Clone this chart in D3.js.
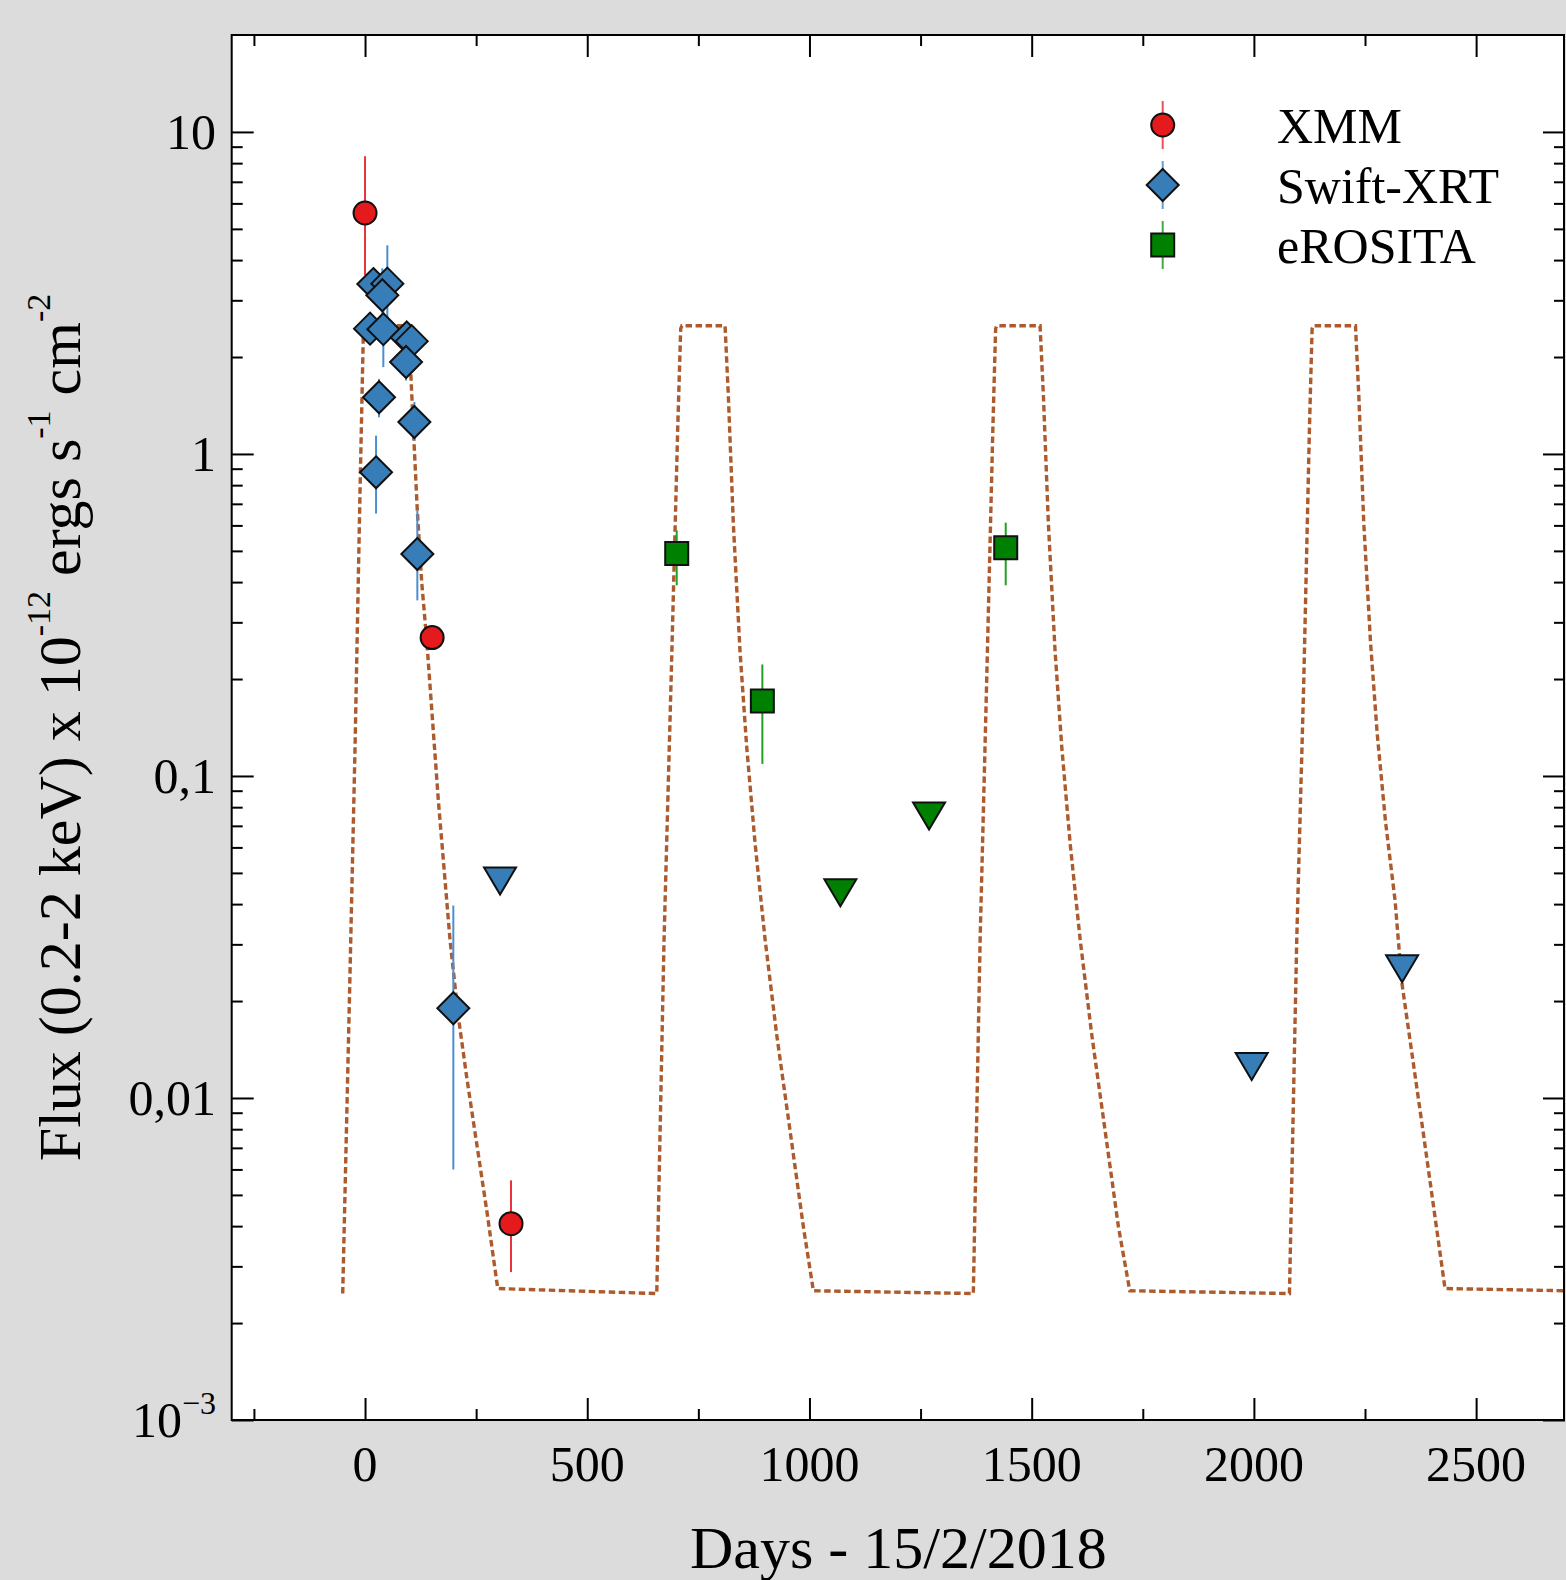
<!DOCTYPE html>
<html>
<head>
<meta charset="utf-8">
<script src="https://cdn.jsdelivr.net/npm/d3@7"></script>
<style>
  html, body { margin: 0; padding: 0; background: #dcdcdc; }
  svg { display: block; }
  text { font-family: "Liberation Serif", "Times New Roman", serif; fill: #000; }
</style>
</head>
<body>
<svg id="chart" width="1566" height="1580"></svg>
<script>
// ---------------- data ----------------
const xDomain = [-300, 2700];
const yDomain = [0.001, 20];

const xMajorTicks = [0, 500, 1000, 1500, 2000, 2500];
const xMinorTicks = [-250, 250, 750, 1250, 1750, 2250];
const xTickLabels = ["0", "500", "1000", "1500", "2000", "2500"];

const yMajorTicks = [0.001, 0.01, 0.1, 1, 10];
const yTickLabels = [["10", "\u22123"], ["0,01"], ["0,1"], ["1"], ["10"]];

// XMM detections
const xmmDays = [0, 151, 328.5];
const xmmFlux = [5.6, 0.269, 0.00407];
const xmmLow  = [3.59, 0.255, 0.00288];
const xmmHigh = [8.4, 0.283, 0.00555];

// Swift-XRT detections
const swiftDays = [18.7, 50.2, 38.9, 11.3, 41.2, 93.8, 105, 92.3, 31.5, 111, 24.8, 117.7, 198.7];
const swiftFlux = [3.37, 3.38, 3.11, 2.45, 2.44, 2.30, 2.24, 1.93, 1.50, 1.257, 0.877, 0.489, 0.019];
const swiftLow  = [3.1, 2.66, 2.6, 2.18, 1.86, 2.1, 2.05, 1.69, 1.30, 1.10, 0.653, 0.351, 0.0060];
const swiftHigh = [3.65, 4.45, 3.77, 2.76, 2.9, 2.5, 2.45, 2.2, 1.71, 1.45, 1.14, 0.668, 0.0396];

// Swift-XRT upper limits
const swiftULDays = [303.8, 1995, 2333.5];
const swiftULFlux = [0.0472, 0.01252, 0.0252];

// eROSITA detections
const eroDays = [701.3, 894, 1441.6];
const eroFlux = [0.491, 0.171, 0.511];
const eroLow  = [0.391, 0.109, 0.391];
const eroHigh = [0.579, 0.222, 0.612];

// eROSITA upper limits
const eroULDays = [1069.5, 1269.1];
const eroULFlux = [0.0434, 0.0751];

// Model light curve (dashed)
const modelDays = [
  -50.2, -35.3, -22.5, -11.3, -3.8, 0, 97.4, 101.3, 108.7, 117.7, 127.6, 138.8, 164.9, 191.3, 209.9, 228.8, 251.3, 273.8, 298.6,
  656.4, 672.8, 688.5, 703.6, 710.3, 713, 810.1, 817.5, 828.7, 843.8, 858.9, 877.6, 900.1, 926.4, 956.4, 986.3, 1008.8,
  1368.7, 1384, 1398.6, 1412.7, 1418.9, 1421.5, 1518.9, 1526.4, 1537.6, 1552.7, 1567.8, 1586.5, 1609, 1635.3, 1665.3, 1695.2, 1720.7,
  2080, 2096.4, 2112.1, 2125, 2131, 2133.5, 2228.6, 2236.1, 2247.3, 2262.4, 2277.5, 2296.2, 2317.6, 2332.7, 2381.4, 2430,
  2700
];
const modelFlux = [
  0.00247, 0.0197, 0.1225, 0.762, 2.38, 2.5, 2.5, 1.99, 1.20, 0.664, 0.398, 0.264, 0.0841, 0.0309, 0.0179, 0.0116, 0.00721, 0.00448, 0.00256,
  0.00247, 0.031, 0.1936, 1.205, 2.45, 2.5, 2.5, 1.514, 0.607, 0.243, 0.1225, 0.0618, 0.0311, 0.01567, 0.0079, 0.00398, 0.00252,
  0.00247, 0.031, 0.1936, 1.205, 2.45, 2.5, 2.5, 1.514, 0.607, 0.243, 0.1225, 0.0618, 0.0311, 0.01567, 0.0079, 0.00398, 0.00252,
  0.00247, 0.031, 0.1936, 1.205, 2.45, 2.5, 2.5, 1.514, 0.607, 0.26, 0.135, 0.072, 0.0411, 0.0229, 0.00774, 0.00256,
  0.00252
];

const legendNames = ["XMM", "Swift-XRT", "eROSITA"];

// ---------------- styles ----------------
const colors = {
  xmm: "#e41a1c", xmmErr: "#e8333a",
  swift: "#377eb8", swiftErr: "#4a8fd0",
  ero: "#008000", eroErr: "#22a022",
  model: "#ad5a2c"
};

const plot = { left: 231.7, right: 1565, top: 35, bottom: 1420 };

const svg = d3.select("#chart");

const x = d3.scaleLinear().domain(xDomain).range([plot.left, plot.right]);
const y = d3.scaleLog().domain(yDomain).range([plot.bottom, plot.top]);

// plot background
svg.append("rect")
  .attr("x", plot.left).attr("y", plot.top)
  .attr("width", plot.right - plot.left).attr("height", plot.bottom - plot.top)
  .attr("fill", "#fff");

const g = svg.append("g");
// clip
svg.append("clipPath").attr("id", "clip").append("rect")
  .attr("x", plot.left).attr("y", plot.top)
  .attr("width", plot.right - plot.left).attr("height", plot.bottom - plot.top);
const content = g.append("g").attr("clip-path", "url(#clip)");

// model line
const modelPts = modelDays.map((d, i) => [d, modelFlux[i]]);
content.append("path")
  .datum(modelPts)
  .attr("fill", "none")
  .attr("stroke", colors.model)
  .attr("stroke-width", 3.4)
  .attr("stroke-dasharray", "6.5,3.5")
  .attr("d", d3.line().x(d => x(d[0])).y(d => y(d[1])));

// marker paths
const shapes = {
  circle: "M11.5,0A11.5,11.5 0 1,1 -11.5,0A11.5,11.5 0 1,1 11.5,0Z",
  diamond: "M0,-16L16,0L0,16L-16,0Z",
  square: "M-11.5,-11.5h23v23h-23Z",
  tri: "M-16,-13.5L16,-13.5L0,13.5Z"
};

function errorBars(days, lo, hi, color) {
  content.append("g").selectAll("line")
    .data(days.map((d, i) => ({ d, lo: lo[i], hi: hi[i] })))
    .join("line")
    .attr("x1", p => x(p.d)).attr("x2", p => x(p.d))
    .attr("y1", p => y(p.lo)).attr("y2", p => y(p.hi))
    .attr("stroke", color).attr("stroke-width", 2);
}
function markers(days, flux, shape, fill) {
  content.append("g").selectAll("path")
    .data(days.map((d, i) => ({ d, f: flux[i] })))
    .join("path")
    .attr("transform", p => `translate(${x(p.d)},${y(p.f)})`)
    .attr("d", shapes[shape])
    .attr("fill", fill)
    .attr("stroke", "#111")
    .attr("stroke-width", 2)
    .attr("stroke-linejoin", "miter");
}

errorBars(swiftDays, swiftLow, swiftHigh, colors.swiftErr);
errorBars(eroDays, eroLow, eroHigh, colors.eroErr);
errorBars(xmmDays, xmmLow, xmmHigh, colors.xmmErr);
markers(swiftDays, swiftFlux, "diamond", colors.swift);
markers(swiftULDays, swiftULFlux, "tri", colors.swift);
markers(eroDays, eroFlux, "square", colors.ero);
markers(eroULDays, eroULFlux, "tri", colors.ero);
markers(xmmDays, xmmFlux, "circle", colors.xmm);

// ---------------- axes (ticks inward on all four sides) ----------------
const yMinor = [];
for (let e = -3; e <= 1; e++) {
  for (let k = 2; k <= 9; k++) {
    const v = k * Math.pow(10, e);
    if (v < yDomain[1]) yMinor.push(v);
  }
}
function styleAxis(sel) {
  sel.select(".domain").remove();
  sel.selectAll(".tick line").attr("stroke", "#000").attr("stroke-width", 2);
}
g.append("g").attr("transform", `translate(0,${plot.bottom})`)
  .call(d3.axisBottom(x).tickValues(xMajorTicks).tickSize(-22).tickFormat("")).call(styleAxis);
g.append("g").attr("transform", `translate(0,${plot.bottom})`)
  .call(d3.axisBottom(x).tickValues(xMinorTicks).tickSize(-11).tickFormat("")).call(styleAxis);
g.append("g").attr("transform", `translate(0,${plot.top})`)
  .call(d3.axisTop(x).tickValues(xMajorTicks).tickSize(-22).tickFormat("")).call(styleAxis);
g.append("g").attr("transform", `translate(0,${plot.top})`)
  .call(d3.axisTop(x).tickValues(xMinorTicks).tickSize(-11).tickFormat("")).call(styleAxis);
g.append("g").attr("transform", `translate(${plot.left},0)`)
  .call(d3.axisLeft(y).tickValues(yMajorTicks).tickSize(-22).tickFormat("")).call(styleAxis);
g.append("g").attr("transform", `translate(${plot.left},0)`)
  .call(d3.axisLeft(y).tickValues(yMinor).tickSize(-11).tickFormat("")).call(styleAxis);
g.append("g").attr("transform", `translate(${plot.right},0)`)
  .call(d3.axisRight(y).tickValues(yMajorTicks).tickSize(-22).tickFormat("")).call(styleAxis);
g.append("g").attr("transform", `translate(${plot.right},0)`)
  .call(d3.axisRight(y).tickValues(yMinor).tickSize(-11).tickFormat("")).call(styleAxis);

// frame
g.append("rect")
  .attr("x", plot.left).attr("y", plot.top)
  .attr("width", plot.right - plot.left - 1).attr("height", plot.bottom - plot.top)
  .attr("fill", "none").attr("stroke", "#000").attr("stroke-width", 2);

// x tick labels
g.append("g").selectAll("text")
  .data(xMajorTicks)
  .join("text")
  .attr("x", d => x(d)).attr("y", plot.bottom + 61)
  .attr("text-anchor", "middle")
  .attr("font-size", 50)
  .text((d, i) => xTickLabels[i]);

// y tick labels
const yl = g.append("g").selectAll("text")
  .data(yMajorTicks)
  .join("text")
  .attr("x", 216).attr("y", d => y(d) + 17)
  .attr("text-anchor", "end")
  .attr("font-size", 50);
yl.each(function (d, i) {
  const t = d3.select(this);
  const parts = yTickLabels[i];
  t.append("tspan").text(parts[0]);
  if (parts.length > 1) {
    t.append("tspan").attr("font-size", 32).attr("dy", -23).text(parts[1]);
  }
});

// axis titles
g.append("text")
  .attr("x", (plot.left + plot.right) / 2).attr("y", 1568)
  .attr("text-anchor", "middle").attr("font-size", 60)
  .text("Days - 15/2/2018");

const yt = g.append("text")
  .attr("transform", `translate(80,${(plot.top + plot.bottom) / 2}) rotate(-90)`)
  .attr("text-anchor", "middle").attr("font-size", 60);
yt.append("tspan").text("Flux (0.2-2 keV) x 10");
yt.append("tspan").attr("font-size", 34).attr("dy", -30).text("-12");
yt.append("tspan").attr("dy", 30).text(" ergs s");
yt.append("tspan").attr("font-size", 34).attr("dy", -30).text("-1");
yt.append("tspan").attr("dy", 30).text(" cm");
yt.append("tspan").attr("font-size", 34).attr("dy", -30).text("-2");

// ---------------- legend ----------------
const legendShapes = ["circle", "diamond", "square"];
const legendFill = [colors.xmm, colors.swift, colors.ero];
const legendErr = [colors.xmmErr, colors.swiftErr, colors.eroErr];
const lg = g.append("g");
const rows = lg.selectAll("g").data(legendNames).join("g")
  .attr("transform", (d, i) => `translate(1162.7,${125 + i * 60})`);
rows.append("line")
  .attr("x1", 0).attr("x2", 0).attr("y1", -24).attr("y2", 24)
  .attr("stroke", (d, i) => legendErr[i]).attr("stroke-width", 2).attr("opacity", 0.85);
rows.append("path")
  .attr("d", (d, i) => shapes[legendShapes[i]])
  .attr("fill", (d, i) => legendFill[i])
  .attr("stroke", "#111").attr("stroke-width", 2);
rows.append("text")
  .attr("x", 1277 - 1162.7).attr("y", 18.3)
  .attr("font-size", 50)
  .text(d => d);
</script>
</body>
</html>
